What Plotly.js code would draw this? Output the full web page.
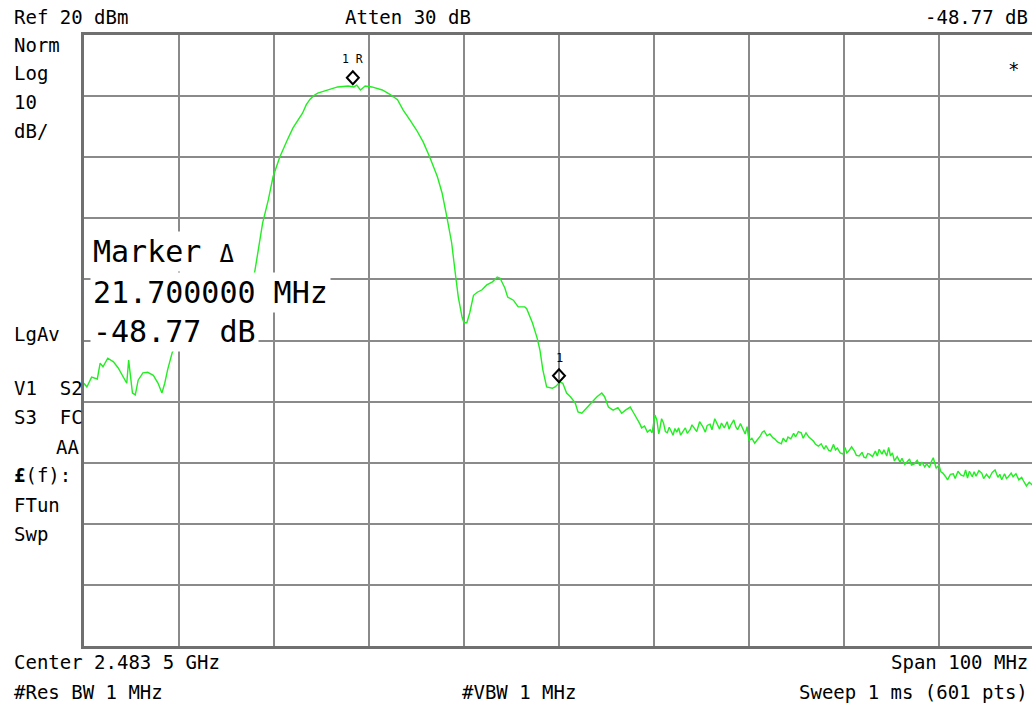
<!DOCTYPE html>
<html>
<head>
<meta charset="utf-8">
<script src="https://cdn.plot.ly/plotly-3.0.1.min.js"></script>
<style>
html,body{margin:0;padding:0;overflow:hidden;background:#fff;}
#chart{width:1034px;height:709px;}
</style>
</head>
<body>
<div id="chart"></div>
<script>
// ---- instrument settings ----
const centerMHz = 2483.5;
const spanMHz = 100;
const refLevelDbm = 20;
const dbPerDiv = 10;
const divisions = 10;

// ---- trace: frequency offset from start of span (MHz) and level (dBm) ----
const lowSideOffset = [0.0,0.3,0.8,1.4,1.7,2.0,2.5,3.1,3.6,4.1,4.5,4.7,5.1,5.4,5.7,6.2,6.7,7.3,7.8,8.2,8.5,8.8,9.3,
  9.8,11.0,12.5,14.0,15.5,16.5,17.3,18.0];
const lowSideLevel = [-37.0,-37.6,-36.0,-36.3,-33.7,-34.3,-32.9,-33.5,-34.5,-36.0,-37.0,-33.2,-38.6,-38.9,-36.5,-35.3,-35.2,-35.7,-37.0,-38.6,-37.0,-34.8,-31.9,
  -30.5,-29.5,-29.0,-28.3,-27.0,-26.0,-24.5,-18.5];

const lobeOffset = [18.8,19.4,19.9,20.6,21.4,22.0,23.0,23.4,23.8,24.2,24.6,25.7,26.7,27.8,28.4,28.7,29.1,29.6,30.3,31.4,32.2,33.0,33.6,34.3,35.0,35.7,36.4,37.2,37.7,38.2,38.7,39.1,39.4,39.8];
const lobeLevel = [-10.8,-7.0,-3.2,0.0,2.8,4.8,7.2,8.6,9.5,10.1,10.5,11.0,11.5,11.65,11.5,11.8,11.0,11.65,11.5,11.0,10.3,9.4,7.7,6.1,4.45,2.5,0.0,-3.2,-5.9,-9.8,-14.0,-19.2,-22.9,-26.2];

const skirtOffset = [40.0,40.3,40.6,41.0,41.4,41.9,42.4,43.0,43.5,43.8,44.3,44.6,45.2,45.7,46.4,46.6,47.2,47.7,48.0,48.3,48.7,49.3,49.6,49.8,50.1,50.4,50.8,51.2,51.7,52.0,52.4,53.0,53.5,54.0,54.5,54.8,55.2,55.7,56.2,56.6,57.0,57.5,57.8];
const skirtLevel = [-27.1,-27.1,-25.5,-22.6,-22.1,-21.7,-20.9,-20.4,-19.6,-19.8,-21.4,-22.9,-23.4,-24.5,-24.5,-24.8,-27.1,-29.6,-31.6,-34.8,-37.6,-37.8,-37.6,-37.3,-36.8,-37.0,-38.6,-39.2,-40.2,-41.7,-41.9,-40.9,-40.1,-39.2,-38.6,-39.2,-40.9,-41.4,-41.0,-41.9,-41.4,-40.9,-41.7];

const floorOffset = [
  58.2,58.5,58.7,59.0,59.3,59.6,59.8,60.1,60.3,60.5,
  60.6,60.8,61.0,61.2,61.4,61.6,61.8,62.0,62.2,62.4,
  62.6,62.8,63.0,63.3,63.5,63.8,64.0,64.2,64.5,64.8,
  65.1,65.4,65.6,65.9,66.1,66.4,66.6,66.9,67.1,67.4,
  67.7,67.9,68.1,68.4,68.6,68.8,69.1,69.4,69.6,69.8,
  70.0,70.3,70.6,70.9,71.2,71.4,71.6,71.9,72.2,72.5,
  72.7,73.0,73.4,73.6,73.9,74.1,74.4,74.7,74.9,75.2,
  75.5,75.7,76.0,76.3,76.5,76.8,77.0,77.3,77.6,77.9,
  78.1,78.4,78.6,78.9,79.1,79.3,79.6,79.9,80.1,80.3,
  80.5,80.8,81.1,81.3,81.6,81.9,82.1,82.3,82.5,82.7,
  83.0,83.3,83.5,83.7,84.0,84.2,84.5,84.7,84.9,85.1,
  85.3,85.6,85.9,86.1,86.4,86.6,86.9,87.1,87.4,87.7,
  88.0,88.2,88.5,88.7,89.0,89.2,89.4,89.7,90.0,90.2,
  90.4,90.7,90.9,91.2,91.5,91.7,92.0,92.3,92.6,92.8,
  93.0,93.2,93.5,93.7,93.9,94.2,94.5,94.7,95.0,95.3,
  95.6,95.9,96.2,96.4,96.6,96.9,97.1,97.3,97.6,97.8,
  98.1,98.4,98.7,98.9,99.2,99.5,99.8,100.0];
const floorLevel = [
  -42.7,-43.6,-44.3,-44.0,-45.0,-44.6,-45.1,-42.2,-43.0,-45.3,
  -44.6,-42.8,-43.5,-44.9,-45.1,-44.2,-44.8,-45.5,-44.4,-45.0,
  -44.3,-45.5,-45.0,-44.3,-45.2,-44.6,-43.8,-44.2,-44.9,-43.3,
  -44.0,-45.0,-43.9,-43.7,-44.6,-42.8,-43.6,-44.5,-43.5,-44.3,
  -43.3,-44.5,-43.8,-43.0,-44.1,-44.6,-43.6,-44.8,-45.3,-44.1,
  -46.4,-46.0,-46.8,-46.2,-45.6,-45.0,-44.8,-45.6,-45.3,-45.9,
  -46.1,-46.6,-46.9,-46.0,-46.6,-45.8,-46.1,-45.2,-45.8,-44.9,
  -45.1,-46.0,-45.1,-45.8,-46.1,-46.5,-47.0,-47.3,-46.9,-47.8,
  -47.2,-48.0,-48.1,-47.0,-47.9,-47.6,-48.4,-48.6,-47.5,-48.4,
  -48.1,-47.4,-48.1,-48.8,-48.9,-48.3,-49.1,-49.2,-48.5,-48.6,
  -49.0,-48.1,-48.9,-47.8,-48.6,-47.9,-48.9,-47.5,-48.9,-48.4,
  -49.7,-49.0,-49.9,-49.3,-50.3,-49.9,-49.4,-50.4,-50.2,-49.6,
  -50.5,-49.9,-50.7,-50.2,-50.8,-49.8,-49.2,-50.9,-50.4,-51.5,
  -51.7,-52.3,-52.8,-51.9,-51.8,-52.6,-51.4,-52.0,-52.2,-51.2,
  -52.5,-51.4,-52.3,-51.5,-52.2,-51.3,-51.7,-52.6,-51.9,-52.5,
  -51.6,-51.2,-52.4,-51.9,-52.8,-51.8,-52.6,-52.3,-51.7,-52.3,
  -51.8,-52.8,-52.4,-53.0,-53.8,-53.2,-53.6,-53.9];

// ---- markers ----
const refMarkerOffsetMHz = 28.3;
const refMarkerLevel = 11.7;
const deltaMHz = 21.7;
const deltaDb = -48.77;

// ---- texts ----
const headerTexts = ["Ref 20 dBm", "Atten 30 dB", "-48.77 dB"];
const sideTexts = ["Norm", "Log", "10", "dB/", "LgAv", "V1  S2", "S3  FC", "AA", "<b>£</b>(f):", "FTun", "Swp"];
const footerTexts = ["Center 2.483 5 GHz", "Span 100 MHz", "#Res BW 1 MHz", "#VBW 1 MHz", "Sweep 1 ms (601 pts)"];
const markerReadout = ["Marker <span style='font-size:24px'>Δ</span>", "21.700000 MHz", "-48.77 dB"];

// ---- build ----
const startMHz = centerMHz - spanMHz / 2;
const stopMHz = centerMHz + spanMHz / 2;
const offsets = lowSideOffset.concat(lobeOffset, skirtOffset, floorOffset);
const levels = lowSideLevel.concat(lobeLevel, skirtLevel, floorLevel);
const freqs = offsets.map(o => startMHz + o);

const refMarkerFreq = startMHz + refMarkerOffsetMHz;
const deltaMarkerFreq = refMarkerFreq + deltaMHz;
const deltaMarkerLevel = refMarkerLevel + deltaDb;

// plot geometry in pixels (for placing the instrument annotations around the graticule)
const L = 84, T = 35, W = 950, H = 611;
const PX = p => (p - L) / W;
const PY = p => (T + H - p) / H;

const FONT = "DejaVu Sans Mono";
const small = {family: FONT, size: 19, color: "#000"};
const big = {family: FONT, size: 30, color: "#000"};

function txt(text, x, y, anchor, font, extra) {
  return Object.assign({text: text, xref: "paper", yref: "paper", x: PX(x), y: PY(y),
    xanchor: anchor, yanchor: "middle", showarrow: false, font: font || small}, extra || {});
}

const annotations = [
  txt(headerTexts[0], 12, 17, "left"),
  txt(headerTexts[1], 343, 17, "left"),
  txt(headerTexts[2], 1030, 17, "right"),
  txt(sideTexts[0], 12, 45, "left"),
  txt(sideTexts[1], 12, 73, "left"),
  txt(sideTexts[2], 12, 102, "left"),
  txt(sideTexts[3], 12, 131, "left"),
  txt(sideTexts[4], 12, 334, "left"),
  txt(sideTexts[5], 12, 388, "left"),
  txt(sideTexts[6], 12, 417, "left"),
  txt(sideTexts[7], 81, 447, "right"),
  txt(sideTexts[8], 12, 475, "left"),
  txt(sideTexts[9], 12, 505, "left"),
  txt(sideTexts[10], 12, 534, "left"),
  txt("*", 1013, 69, "center"),
  txt(footerTexts[0], 12, 662, "left"),
  txt(footerTexts[1], 1030, 662, "right"),
  txt(footerTexts[2], 12, 692, "left"),
  txt(footerTexts[3], 460, 692, "left"),
  txt(footerTexts[4], 1030, 692, "right"),
  txt(markerReadout[0], 90, 251, "left", big, {bgcolor: "#fff", borderpad: 2}),
  txt(markerReadout[1], 90, 292, "left", big, {bgcolor: "#fff", borderpad: 2}),
  txt(markerReadout[2], 90, 331, "left", big, {bgcolor: "#fff", borderpad: 2}),
  {text: "1 R", x: refMarkerFreq, y: refMarkerLevel, xref: "x", yref: "y", showarrow: false,
   yshift: 27, font: {family: FONT, size: 11.5, color: "#000"}},
  {text: "1", x: deltaMarkerFreq, y: deltaMarkerLevel, xref: "x", yref: "y", showarrow: false,
   yshift: 26, font: {family: FONT, size: 12, color: "#000"}}
];

function diamond(fx, lvl) {
  return {type: "path", xref: "x", yref: "y", xsizemode: "pixel", ysizemode: "pixel",
    xanchor: fx, yanchor: lvl, path: "M-6,8L0,14.5L6,8L0,1.5Z",
    line: {color: "#000", width: 2}, fillcolor: "rgba(0,0,0,0)", layer: "above"};
}

const data = [{
  type: "scatter", mode: "lines", x: freqs, y: levels,
  line: {color: "#22ee22", width: 1.4, shape: "linear"}, hoverinfo: "skip", showlegend: false
}];

const layout = {
  width: 1034, height: 709,
  margin: {l: L, r: 1034 - L - W, t: T, b: 709 - T - H, pad: 0},
  paper_bgcolor: "#fff", plot_bgcolor: "#fff",
  showlegend: false,
  xaxis: {range: [startMHz, stopMHz], tick0: startMHz, dtick: spanMHz / divisions,
    showgrid: true, gridcolor: "#8a8a8a", gridwidth: 2, showticklabels: false, ticks: "",
    zeroline: false, showline: true, mirror: true, linecolor: "#707070", linewidth: 3, fixedrange: true},
  yaxis: {range: [refLevelDbm - dbPerDiv * divisions, refLevelDbm], tick0: refLevelDbm, dtick: dbPerDiv,
    showgrid: true, gridcolor: "#8a8a8a", gridwidth: 2, showticklabels: false, ticks: "",
    zeroline: false, showline: true, mirror: true, linecolor: "#707070", linewidth: 3, fixedrange: true},
  annotations: annotations,
  shapes: [diamond(refMarkerFreq, refMarkerLevel), diamond(deltaMarkerFreq, deltaMarkerLevel)]
};

Plotly.newPlot("chart", data, layout, {staticPlot: true, displayModeBar: false});
</script>
</body>
</html>
